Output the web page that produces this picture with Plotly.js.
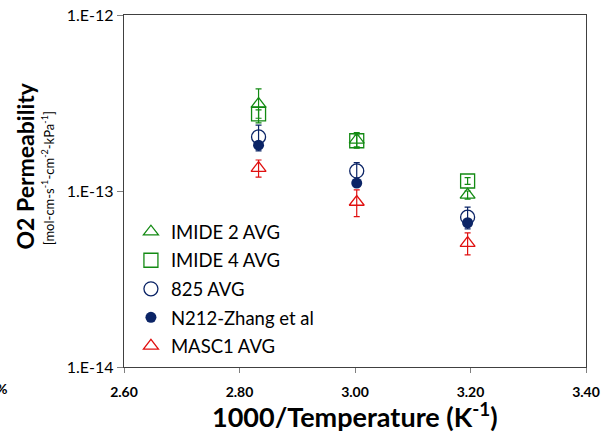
<!DOCTYPE html>
<html>
<head>
<meta charset="utf-8">
<script src="https://cdn.plot.ly/plotly-3.0.1.min.js"></script>
<style>
  html, body { margin: 0; padding: 0; background: #fff; }
  #chart { width: 602px; height: 435px; }
</style>
</head>
<body>
<div id="chart"></div>
<script>
// 1000/T for 353 K, 333 K and 313 K
const invTemp = [2.833, 3.003, 3.195];

// O2 permeability (mol-cm-s^-1-cm^-2-kPa^-1) and standard deviations
const imide2 = [3.12e-13, 1.95e-13, 9.5e-14];
const imide2Err = [0.68e-13, 0.2e-13, 0.05e-13];
const imide4 = [2.74e-13, 1.93e-13, 1.14e-13];
const imide4Err = [0.15e-13, 0.15e-13, 0.05e-13];
const avg825 = [2.03e-13, 1.30e-13, 7.1e-14];
const avg825Err = [0.34e-13, 0.15e-13, 1.0e-14];
const n212 = [1.82e-13, 1.11e-13, 6.6e-14];
const masc1 = [1.35e-13, 8.66e-14, 5.06e-14];
const masc1Err = [0.15e-13, 1.5e-14, 0.72e-14];

const seriesNames = ['IMIDE 2 AVG', 'IMIDE 4 AVG', '825 AVG', 'N212-Zhang et al', 'MASC1 AVG'];

const xTicks = [2.6, 2.8, 3.0, 3.2, 3.4];
const xTickText = ['2.60', '2.80', '3.00', '3.20', '3.40'];
const yTicks = [1e-14, 1e-13, 1e-12];
const yTickText = ['1.E-14', '1.E-13', '1.E-12'];

const GREEN = '#138a13';
const NAVY = '#0b2466';
const RED = '#e01010';
const FONT = 'Lato, "Open Sans", sans-serif';

function errBar(arr, color) {
  return { type: 'data', array: arr, visible: true, color: color, thickness: 1.2, width: 3 };
}

const traces = [
  {
    x: invTemp, y: imide2, name: seriesNames[0], legendgroup: 'a',
    mode: 'markers', type: 'scatter',
    marker: { symbol: 'triangle-up-open', size: 13, color: GREEN, line: { width: 1.3, color: GREEN } },
    error_y: errBar(imide2Err, GREEN)
  },
  {
    x: invTemp, y: imide4, name: seriesNames[1], legendgroup: 'b',
    mode: 'markers', type: 'scatter',
    marker: { symbol: 'square-open', size: 14, color: GREEN, line: { width: 1.3, color: GREEN } },
    error_y: errBar(imide4Err, GREEN)
  },
  {
    x: invTemp, y: avg825, name: seriesNames[2], legendgroup: 'c',
    mode: 'markers', type: 'scatter',
    marker: { symbol: 'circle-open', size: 14, color: NAVY, line: { width: 1.3, color: NAVY } },
    error_y: errBar(avg825Err, NAVY)
  },
  {
    x: invTemp, y: n212, name: seriesNames[3], legendgroup: 'd',
    mode: 'markers', type: 'scatter',
    marker: { symbol: 'circle', size: 11, color: NAVY }
  },
  {
    x: invTemp, y: masc1, name: seriesNames[4], legendgroup: 'e',
    mode: 'markers', type: 'scatter',
    marker: { symbol: 'triangle-up-open', size: 13, color: RED, line: { width: 1.3, color: RED } },
    error_y: errBar(masc1Err, RED)
  }
];

const layout = {
  width: 602, height: 435,
  margin: { l: 124, r: 16, t: 15, b: 68 },
  paper_bgcolor: '#ffffff', plot_bgcolor: '#ffffff',
  font: { family: FONT, color: '#000' },
  showlegend: true,
  legend: {
    x: 0.015, y: 0.437, xanchor: 'left', yanchor: 'top',
    bgcolor: 'rgba(0,0,0,0)', font: { family: FONT, size: 18.5, color: '#000' },
    traceorder: 'grouped', tracegroupgap: 1.5, itemwidth: 30
  },
  xaxis: {
    range: [2.6, 3.4], tickvals: xTicks, ticktext: xTickText.map(t => '<b>' + t + '</b>'),
    showgrid: false, zeroline: false,
    showline: true, linecolor: '#404040', linewidth: 1.3, mirror: true,
    ticks: 'outside', ticklen: 5, tickcolor: '#808080',
    ticklabelstandoff: 7,
    tickfont: { family: FONT, size: 14, color: '#000' }
  },
  yaxis: {
    type: 'log', range: [-14, -12], tickvals: yTicks, ticktext: yTickText,
    showgrid: false, zeroline: false,
    showline: true, linecolor: '#404040', linewidth: 1.3, mirror: true,
    ticks: 'outside', ticklen: 6, tickcolor: '#808080',
    tickfont: { family: FONT, size: 16, color: '#000' }
  },
  annotations: [
    {
      xref: 'paper', yref: 'paper', x: 0.5, y: -0.136, xanchor: 'center', yanchor: 'middle',
      showarrow: false,
      text: '<b>1000/Temperature (K<sup>-1</sup>)</b>', font: { family: FONT, size: 27, color: '#000' }
    },
    {
      xref: 'paper', yref: 'paper', x: -0.214, y: 0.57, xanchor: 'center', yanchor: 'middle',
      textangle: -90, showarrow: false,
      text: '<b>O2 Permeability</b>', font: { family: FONT, size: 23, color: '#000' }
    },
    {
      xref: 'paper', yref: 'paper', x: -0.164, y: 0.537, xanchor: 'center', yanchor: 'middle',
      textangle: -90, showarrow: false,
      text: '[mol-cm-s<sup>-1</sup>-cm<sup>-2</sup>-kPa<sup>-1</sup>]', font: { family: FONT, size: 13, color: '#000' }
    },
    {
      xref: 'paper', yref: 'paper', x: -0.25, y: -0.06, xanchor: 'right', yanchor: 'middle',
      showarrow: false, text: '<b>%</b>', font: { family: FONT, size: 14, color: '#000' }
    }
  ]
};

Plotly.newPlot('chart', traces, layout, { displayModeBar: false, staticPlot: true });
</script>
</body>
</html>
